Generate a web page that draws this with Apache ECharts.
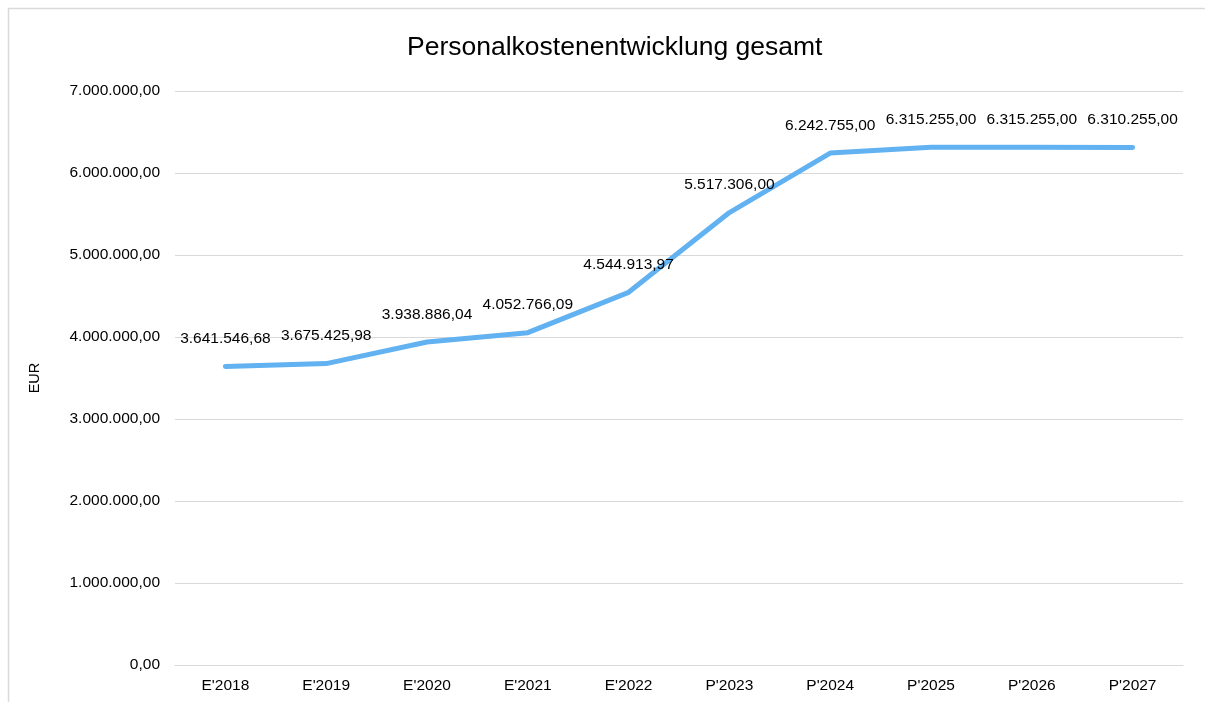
<!DOCTYPE html>
<html>
<head>
<meta charset="utf-8">
<script src="https://cdn.jsdelivr.net/npm/echarts@6/dist/echarts.min.js"></script>
<style>
html,body{margin:0;padding:0;background:#fff;}
#chart{width:1205px;height:702px;}
</style>
</head>
<body>
<div id="chart"></div>
<script>
const titleText = "Personalkostenentwicklung gesamt";
const axisName = "EUR";
const categories = ["E'2018","E'2019","E'2020","E'2021","E'2022","P'2023","P'2024","P'2025","P'2026","P'2027"];
const values = [3641546.68, 3675425.98, 3938886.04, 4052766.09, 4544913.97, 5517306.00, 6242755.00, 6315255.00, 6315255.00, 6310255.00];
const yTicks = [0, 1000000, 2000000, 3000000, 4000000, 5000000, 6000000, 7000000];

function fmtDE(v) {
  const fixed = Math.abs(v).toFixed(2);
  const parts = fixed.split('.');
  const intPart = parts[0].replace(/\B(?=(\d{3})+(?!\d))/g, '.');
  return (v < 0 ? '-' : '') + intPart + ',' + parts[1];
}

const chart = echarts.init(document.getElementById('chart'));
const font = 'Liberation Sans, Arial, Helvetica, sans-serif';
chart.setOption({
  animation: false,
  textStyle: { fontFamily: font },
  graphic: [{
    type: 'rect',
    shape: { x: 8.5, y: 8.5, width: 1220, height: 720 },
    style: { fill: 'none', stroke: '#d9d9d9', lineWidth: 1.5 },
    silent: true
  }],
  title: {
    text: titleText,
    left: 402,
    top: 29,
    textStyle: { fontFamily: font, fontSize: 26.5, fontWeight: 'normal', color: '#000' }
  },
  grid: { left: 175, right: 22, top: 91, bottom: 37, containLabel: false },
  xAxis: {
    type: 'category',
    data: categories,
    boundaryGap: true,
    axisLine: { show: true, lineStyle: { color: '#d9d9d9', width: 1 } },
    axisTick: { show: false },
    axisLabel: { color: '#000', fontSize: 15.5, margin: 13, fontFamily: font }
  },
  yAxis: {
    type: 'value',
    min: yTicks[0],
    max: yTicks[yTicks.length - 1],
    interval: 1000000,
    name: axisName,
    nameLocation: 'middle',
    nameRotate: 90,
    nameGap: 133,
    nameTextStyle: { color: '#000', fontSize: 14.5, fontFamily: font },
    axisLine: { show: false },
    axisTick: { show: false },
    splitLine: { lineStyle: { color: '#d9d9d9', width: 1 } },
    axisLabel: { color: '#000', fontSize: 15.5, margin: 15, fontFamily: font, formatter: v => fmtDE(v) }
  },
  series: [{
    type: 'line',
    data: values,
    symbol: 'circle',
    symbolSize: 1,
    showSymbol: true,
    itemStyle: { color: 'rgba(0,0,0,0)' },
    lineStyle: { color: '#62b2f2', width: 5, cap: 'round', join: 'round' },
    label: {
      show: true,
      position: 'top',
      distance: 19,
      color: '#000',
      fontSize: 15.5,
      fontFamily: font,
      formatter: p => fmtDE(p.value)
    }
  }]
});
</script>
</body>
</html>
